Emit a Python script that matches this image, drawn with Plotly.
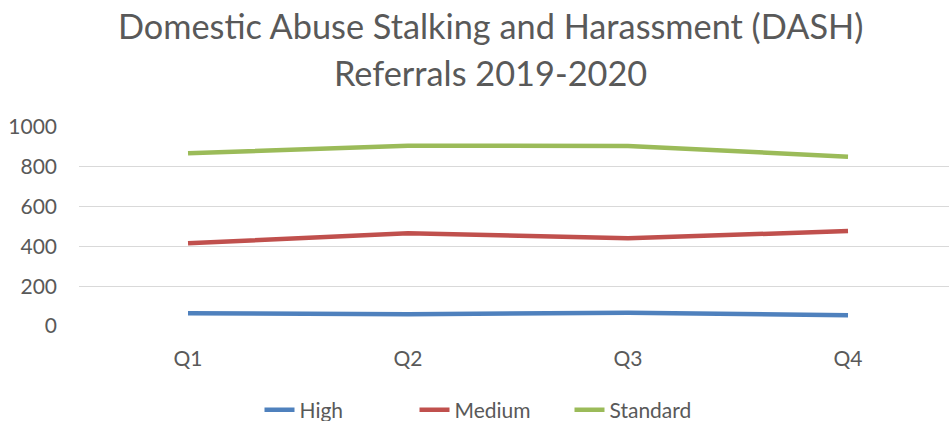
import plotly.graph_objects as go

quarters = ["Q1", "Q2", "Q3", "Q4"]
high = [64, 59, 67, 54]
medium = [416, 466, 441, 477]
standard = [868, 906, 905, 851]
y_ticks = [0, 200, 400, 600, 800, 1000]
title_lines = ["Domestic Abuse Stalking and Harassment (DASH)", "Referrals 2019-2020"]
title_y_px = [26, 73]

FONT = "Lato, 'Open Sans', sans-serif"
GREY = "#595959"

fig = go.Figure()
for name, vals, col in [("High", high, "#4F81BD"),
                        ("Medium", medium, "#C0504D"),
                        ("Standard", standard, "#9BBB59")]:
    fig.add_trace(go.Scatter(x=quarters, y=vals, name=name, mode="lines",
                             line=dict(color=col, width=4.5)))

for line, ypx in zip(title_lines, title_y_px):
    fig.add_annotation(text=line, xref="paper", yref="paper",
                       x=(490 - 79) / 870, y=(326 - ypx) / 199,
                       xanchor="center", yanchor="middle", showarrow=False,
                       font=dict(size=34.3, color=GREY, family=FONT))

fig.update_layout(
    width=949, height=421,
    margin=dict(l=79, r=0, t=127, b=95),
    paper_bgcolor="white", plot_bgcolor="white",
    font=dict(family=FONT, color=GREY, size=21),
    showlegend=True,
    legend=dict(orientation="h", x=(492 - 79) / 870, xanchor="center",
                yref="container", y=1 - 410 / 421, yanchor="middle",
                font=dict(size=21, color=GREY), entrywidth=110),
    xaxis=dict(range=[-0.4955, 3.459], showgrid=False, zeroline=False, showline=False,
               ticks="", tickfont=dict(size=21, color=GREY), automargin=False,
               ticklabelstandoff=18),
    yaxis=dict(range=[0, 1000], tickvals=y_ticks, showgrid=True, gridcolor="#D9D9D9",
               gridwidth=1.4, zeroline=False, showline=False, ticks="",
               tickfont=dict(size=21, color=GREY), ticklabelstandoff=21,
               automargin=False),
)
fig.write_html("out.html", config={"displayModeBar": False},
               post_script="document.body.style.margin='0';document.body.style.overflow='hidden';")
